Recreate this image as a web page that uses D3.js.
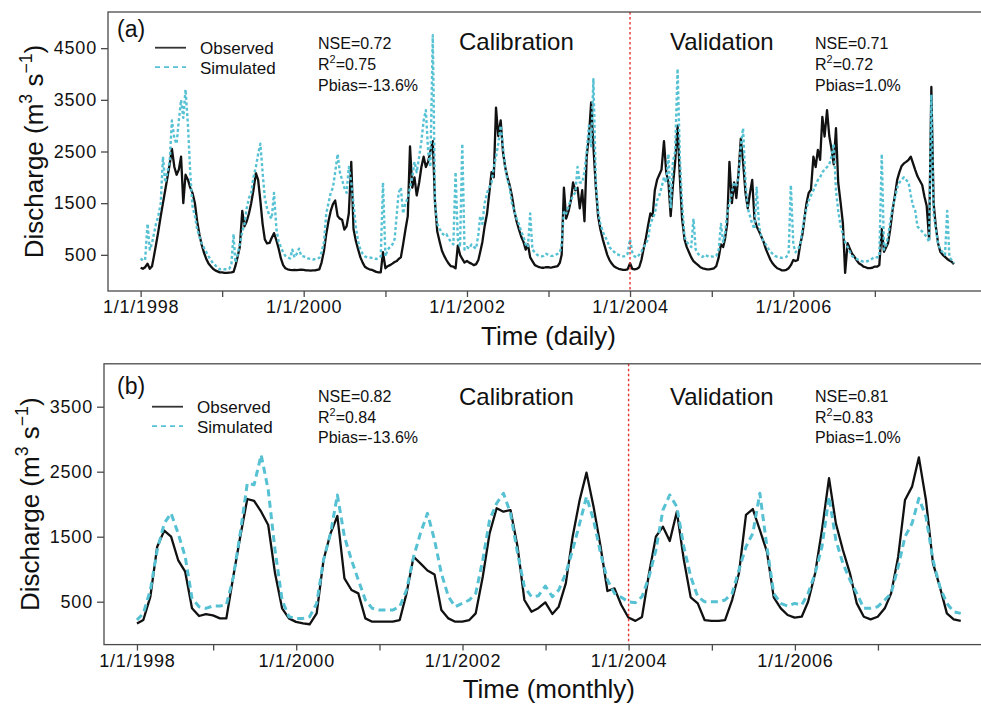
<!DOCTYPE html>
<html>
<head>
<meta charset="utf-8">
<script src="https://cdnjs.cloudflare.com/ajax/libs/d3/7.8.5/d3.min.js"></script>
<style>
  body { margin: 0; background: #fff; }
  svg { display: block; font-family: "Liberation Sans", Arial, Helvetica, sans-serif; }
</style>
</head>
<body>
<div id="chart"></div>
<script>
// daily discharge, one reading every 10 days (1st, 11th, 21st of each month), 1998-2007
const dailyObserved = [
  250,230,260,330,230,280,460,700,950,1250,1500,1750,2000,2250,2550,2200,2050,2150,2400,1500,2050,1950,1800,1700,1500,1150,900,700,550,430,330,280,230,200,180,160,
  160,150,150,155,160,170,280,460,650,1350,1050,1150,1300,1500,1750,2080,1950,1550,1100,800,720,730,830,920,780,620,430,300,240,220,210,205,210,205,210,215,
  210,200,200,195,200,200,210,220,350,580,900,1150,1350,1480,1550,1250,1200,1180,990,1050,1300,2300,1000,780,600,450,350,270,240,220,210,190,170,160,160,550,
  240,280,300,330,360,380,420,450,700,1000,1250,2600,1800,2000,1650,1900,2200,2400,2200,2300,2500,2700,1500,950,750,580,480,400,330,280,270,240,680,500,420,350,
  380,350,330,300,320,400,550,750,1050,1300,1700,2100,2000,3350,2800,3100,2500,2200,2000,1850,1650,1350,1150,1000,850,750,600,700,450,380,300,280,260,250,250,260,
  260,250,260,270,280,350,500,1800,1200,1350,1550,1900,1750,1800,1400,1750,1150,2400,2800,3450,2600,1800,1250,1000,800,650,500,400,330,280,250,230,220,210,210,220,
  340,230,220,230,260,400,600,800,1050,1300,1250,1750,1950,2050,2150,2700,2100,1900,1250,1850,2300,3000,2000,1200,800,650,550,450,380,340,300,260,240,230,220,220,
  230,240,280,450,700,650,800,1100,2300,1500,1900,1600,2100,2750,2300,1700,1400,1700,1950,1200,1050,950,850,750,600,500,400,330,280,240,220,200,200,210,240,300,
  400,380,400,700,900,1240,1500,1700,1760,2400,2200,2530,2340,3170,2790,3300,2800,2550,2250,2950,1900,1500,1110,150,725,620,520,466,400,338,310,273,260,241,241,250,
  273,270,300,1000,560,650,725,1000,1350,1650,1950,2100,2220,2270,2300,2340,2400,2270,2140,2020,1940,1850,1630,1450,800,3750,1500,1050,725,560,500,460,420,390,365,320
];
const dailySimulated = [
  430,390,400,1100,600,720,900,1100,1250,1500,2400,1900,2100,2300,3100,2750,2650,3100,3500,3150,3700,3000,2100,1450,1250,1000,850,720,640,560,470,400,340,300,250,220,
  230,220,220,230,300,900,350,500,700,950,1100,1400,1600,1700,2000,2200,2450,2650,2100,1600,1400,1250,1200,1700,1000,750,650,550,480,450,430,600,450,520,620,480,
  470,450,430,420,410,420,430,440,550,750,1300,1500,1700,1800,2100,2450,2100,1950,1800,1700,2200,1900,1500,1050,750,600,520,470,450,450,440,430,420,440,470,1900,
  470,600,650,700,800,1300,1700,1800,1300,1500,1600,1800,2000,2300,2100,2400,2700,3100,3300,2500,2200,4750,1500,1100,1000,920,880,900,820,750,700,2100,800,650,2650,600,
  650,620,700,650,620,900,1250,1100,1500,1700,1800,1900,2200,2400,2650,3000,2600,2200,1950,1800,1500,1350,1200,1100,950,850,700,650,1300,600,550,500,480,470,480,520,
  500,480,480,500,520,550,700,1350,1300,1450,1550,1650,1700,2200,1900,1900,2100,2500,3000,2600,3900,1900,1350,1100,950,850,780,650,600,560,520,500,480,470,470,520,
  800,550,470,450,500,560,650,700,800,1100,1200,1300,1550,1650,1800,2000,1900,2450,1400,2300,2500,4100,2400,1500,850,750,700,650,1200,600,520,480,460,500,480,460,
  470,460,480,600,1100,750,900,1300,1500,1700,1900,1850,2000,2600,2950,1900,1400,1250,1100,1000,1800,1050,850,750,700,620,560,520,480,460,450,440,450,460,520,1850,
  700,550,600,700,1000,1240,1400,1550,1650,1750,1850,1950,2000,2100,2150,2200,2250,2400,2650,1750,1350,1050,900,750,650,560,480,440,420,400,380,370,370,380,400,430,
  460,450,470,2450,600,700,850,1150,1400,1600,1800,1900,1950,2000,1950,1900,1650,1450,1350,1050,1000,950,900,850,750,3600,1300,1000,725,600,550,500,1350,450,400,340
];

// monthly discharge, Jan 1998 - Dec 2007 (plotted at month end)
const monthlyObserved = [
  163,218,577,1346,1593,1500,1141,962,398,280,310,290,
  243,243,900,1500,2080,2050,1885,1680,937,398,243,190,
  168,153,320,1141,1552,1818,860,680,628,243,192,192,
  192,192,218,628,1192,1090,980,920,372,243,192,192,
  218,320,884,1552,1937,1885,1910,1346,526,346,400,490,
  311,423,782,1500,2065,2486,1962,1346,664,705,449,256,
  205,266,937,1500,1654,1433,1885,1141,567,474,218,205,
  205,218,526,937,1835,1925,1603,1270,567,398,295,256,
  269,500,937,1603,2400,1706,1295,937,474,269,228,269,
  398,628,1192,2065,2270,2721,2065,1090,731,320,228,205
];
const monthlySimulated = [
  218,320,680,1295,1706,1860,1552,1193,552,423,398,434,
  434,449,884,1552,2322,2300,2758,2220,1295,526,269,243,
  243,269,474,1141,1552,2142,1500,1141,834,526,398,372,
  372,372,423,680,1192,1552,1860,1449,937,577,423,474,
  526,628,1141,1757,2014,2168,1860,1244,731,577,590,741,
  577,680,937,1295,1706,2116,1757,1244,834,628,567,500,
  485,577,885,1295,1911,2142,1962,1346,885,577,500,500,
  500,526,628,988,1346,1552,2168,1346,628,474,434,474,
  449,628,937,1346,2116,1449,1090,834,628,398,398,423,
  526,628,1038,1500,1706,2090,1809,1141,731,474,346,320
];

const tickYears = [1998, 1999, 2000, 2001, 2002, 2003, 2004, 2005, 2006, 2007];
const labelledYears = [1998, 2000, 2002, 2004, 2006];
const splitDate = new Date(2004, 0, 1);
const dailyTicks = [500, 1500, 2500, 3500, 4500];
const monthlyTicks = [500, 1500, 2500, 3500];
const dailyStats = [["NSE=0.72", "R^2=0.75", "Pbias=-13.6%"], ["NSE=0.71", "R^2=0.72", "Pbias=1.0%"]];
const monthlyStats = [["NSE=0.82", "R^2=0.84", "Pbias=-13.6%"], ["NSE=0.81", "R^2=0.83", "Pbias=1.0%"]];
const seriesNames = ["Observed", "Simulated"];
const periodNames = ["Calibration", "Validation"];

const dailyDates = dailyObserved.map((v, i) =>
  new Date(1998 + Math.floor(i / 36), Math.floor((i % 36) / 3), 1 + 10 * (i % 3)));
const monthlyDates = monthlyObserved.map((v, i) => new Date(1998, i + 1, 0));

const CYAN = "#55c1d3", INK = "#111", FRAME = "#4a4a4a";
const W = 981, H = 704;

const svg = d3.select("#chart").append("svg").attr("width", W).attr("height", H);

// text with ^x superscripts (R^2, m^3, s^-1)
function richText(sel, str, size) {
  const parts = str.split(/\^(-?\d)/);
  let up = false;
  parts.forEach((p, i) => {
    if (p === "") { return; }
    const sup = i % 2 === 1;
    const t = sel.append("tspan").text(sup ? p.replace("-", "\u2212") : p);
    if (sup) {
      t.attr("font-size", size * 0.68).attr("dy", -size * 0.42);
      up = true;
    } else {
      t.attr("font-size", size);
      if (up) { t.attr("dy", size * 0.42); up = false; }
    }
  });
}

// pad time domain by 4% on each side, as R does
function padded(a, b) {
  const pad = 0.04 * (b - a);
  return [new Date(+a - pad), new Date(+b + pad)];
}

function drawPanel(p) {
  const x = d3.scaleTime().domain(padded(p.dates[0], p.dates[p.dates.length - 1])).range([p.left, p.right]);
  if (p.xDomain) x.domain(p.xDomain);
  const y = d3.scaleLinear().domain(p.yDomain).range([p.bottom, p.top]);
  const g = svg.append("g").attr("class", "panel-" + p.id);

  const clipId = "clip-" + p.id;
  g.append("clipPath").attr("id", clipId)
    .append("rect")
    .attr("x", p.left).attr("y", p.top)
    .attr("width", p.right - p.left).attr("height", p.bottom - p.top);

  const line = d3.line().x(d => x(d[0])).y(d => y(d[1]));
  const plot = g.append("g").attr("clip-path", "url(#" + clipId + ")");

  plot.append("path")
    .datum(d3.zip(p.dates, p.obs))
    .attr("d", line)
    .attr("fill", "none")
    .attr("stroke", INK)
    .attr("stroke-width", p.obsWidth)
    .attr("stroke-linejoin", "round");

  plot.append("path")
    .datum(d3.zip(p.dates, p.sim))
    .attr("d", line)
    .attr("fill", "none")
    .attr("stroke", CYAN)
    .attr("stroke-width", p.simWidth)
    .attr("stroke-dasharray", p.simDash)
    .attr("stroke-linejoin", "round");

  // calibration / validation split
  plot.append("line")
    .attr("x1", x(splitDate)).attr("x2", x(splitDate))
    .attr("y1", p.top).attr("y2", p.bottom)
    .attr("stroke", "#e8322c")
    .attr("stroke-width", 1.4)
    .attr("stroke-dasharray", "2.5,2.5");

  g.append("rect")
    .attr("x", p.left).attr("y", p.top)
    .attr("width", p.right - p.left).attr("height", p.bottom - p.top)
    .attr("fill", "none")
    .attr("stroke", FRAME)
    .attr("stroke-width", 1.3);

  // axes
  const xAxis = d3.axisBottom(x)
    .tickValues(p.xTicks)
    .tickSize(6)
    .tickPadding(3.5)
    .tickFormat(d => labelledYears.includes(d.getFullYear()) ? "1/1/" + d.getFullYear() : "");
  const gx = g.append("g").attr("transform", "translate(0," + p.bottom + ")").call(xAxis);

  const yAxis = d3.axisLeft(y).tickValues(p.yTicks).tickSize(7).tickPadding(4).tickFormat(d3.format("d"));
  const gy = g.append("g").attr("transform", "translate(" + p.left + ",0)").call(yAxis);

  [gx, gy].forEach(a => {
    a.select(".domain").remove();
    a.attr("font-family", null).attr("font-size", 18).attr("color", FRAME);
    a.selectAll(".tick line").attr("stroke-width", 1.3);
    a.selectAll("text").attr("fill", INK).attr("letter-spacing", 0.8);
  });

  // axis titles
  g.append("text")
    .attr("x", (p.left + p.right) / 2)
    .attr("y", p.xTitleY)
    .attr("text-anchor", "middle")
    .attr("font-size", 26)
    .attr("fill", INK)
    .text(p.xTitle);

  const yt = g.append("text")
    .attr("transform", "translate(" + p.yTitleX + "," + (p.top + p.bottom) / 2 + ") rotate(-90)")
    .attr("text-anchor", "middle")
    .attr("fill", INK);
  richText(yt, "Discharge (m^3 s^-1)", 26);

  // panel letter
  g.append("text")
    .attr("x", 117).attr("y", p.letterY)
    .attr("font-size", 23)
    .attr("fill", INK)
    .text(p.letter);

  // legend
  seriesNames.forEach((name, i) => {
    const ly = p.legendY + i * 19.5;
    g.append("line")
      .attr("x1", p.legendX).attr("x2", p.legendX + 31)
      .attr("y1", ly).attr("y2", ly)
      .attr("stroke", i === 0 ? "#333" : CYAN)
      .attr("stroke-width", 1.8)
      .attr("stroke-dasharray", i === 0 ? null : "5,4");
    g.append("text")
      .attr("x", p.legendX + 45).attr("y", ly + 6.5)
      .attr("font-size", 17)
      .attr("fill", INK)
      .text(name);
  });

  // period names and goodness-of-fit statistics
  periodNames.forEach((name, i) => {
    g.append("text")
      .attr("x", [459, 670][i]).attr("y", p.periodY)
      .attr("font-size", 24)
      .attr("fill", INK)
      .text(name);
  });
  p.stats.forEach((block, i) => {
    block.forEach((s, j) => {
      const t = g.append("text")
        .attr("x", [318, 815][i]).attr("y", p.statsY + j * 20.8)
        .attr("fill", INK);
      richText(t, s, 16);
    });
  });
}

drawPanel({
  id: "daily", letter: "(a)",
  dates: dailyDates, obs: dailyObserved, sim: dailySimulated,
  xDomain: padded(new Date(1998, 0, 1), new Date(2008, 0, 1)),
  xTicks: tickYears.map(yr => new Date(yr, 0, 1)),
  yDomain: [-200, 5200], yTicks: dailyTicks,
  left: 108, right: 989, top: 12, bottom: 291,
  obsWidth: 2.3, simWidth: 2.4, simDash: "3,2.4",
  xTitle: "Time (daily)", xTitleY: 345, yTitleX: 43,
  letterY: 37, legendX: 155, legendY: 47.7,
  periodY: 50, statsY: 49.3, stats: dailyStats
});

drawPanel({
  id: "monthly", letter: "(b)",
  dates: monthlyDates, obs: monthlyObserved, sim: monthlySimulated,
  // first tick sits on the first monthly value, as in the original figure
  xTicks: [monthlyDates[0]].concat(tickYears.slice(1).map(yr => new Date(yr, 0, 1))),
  yDomain: [-160, 4160], yTicks: monthlyTicks,
  left: 104, right: 993.7, top: 363.8, bottom: 644.6,
  obsWidth: 2.3, simWidth: 3, simDash: "7,4.5",
  xTitle: "Time (monthly)", xTitleY: 698, yTitleX: 39,
  letterY: 393.5, legendX: 152, legendY: 406.7,
  periodY: 405, statsY: 401.7, stats: monthlyStats
});
</script>
</body>
</html>
